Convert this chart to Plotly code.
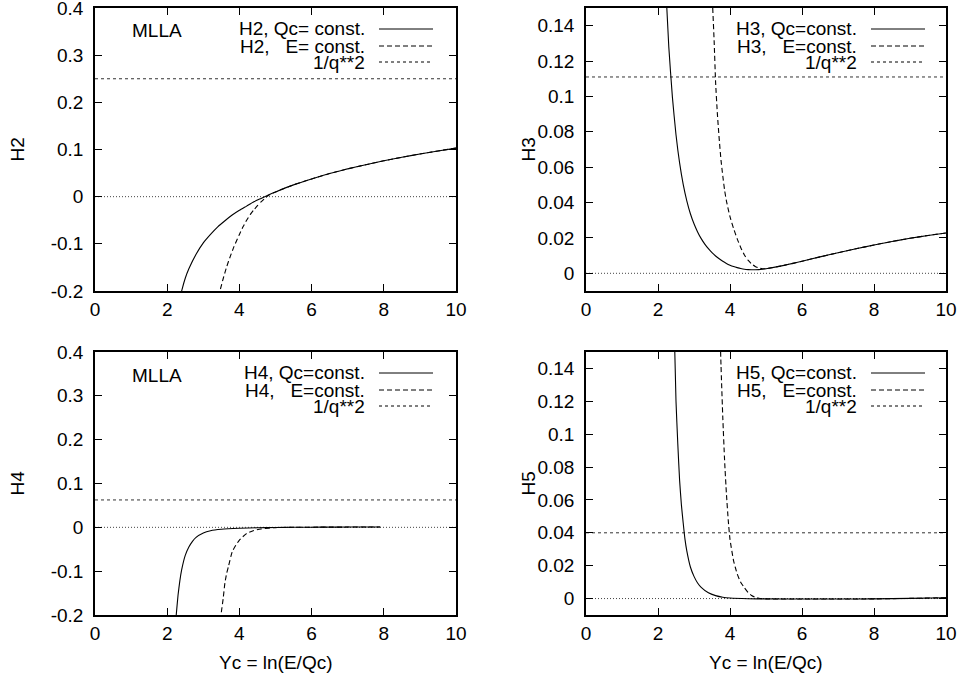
import plotly.graph_objects as go

# ---------------- data ----------------
x_ticks = [0, 2, 4, 6, 8, 10]
x_tick_labels = ["0", "2", "4", "6", "8", "10"]
yl_ticks = [-0.2, -0.1, 0, 0.1, 0.2, 0.3, 0.4]
yl_tick_labels = ["-0.2", "-0.1", "0", "0.1", "0.2", "0.3", "0.4"]
yr_ticks = [0, 0.02, 0.04, 0.06, 0.08, 0.1, 0.12, 0.14]
yr_tick_labels = ["0", "0.02", "0.04", "0.06", "0.08", "0.1", "0.12", "0.14"]

inv_q2 = [0.25, 0.111, 0.0625, 0.04]   # 1/q**2 for q = 2, 3, 4, 5
zero_x = [0, 10]

# H2
h2_qc_x = [2.35, 2.41, 2.5, 2.6, 2.8, 3.0, 3.2, 3.4, 3.6, 3.8, 4.0, 4.2, 4.4, 4.6, 4.8,
           5.0, 5.5, 6.0, 6.5, 7.0, 7.5, 8.0, 8.5, 9.0, 9.5, 10.0]
h2_qc_y = [-0.217, -0.197, -0.173, -0.153, -0.122, -0.098, -0.080, -0.064, -0.051, -0.039,
           -0.029, -0.020, -0.011, -0.0037, 0.0035, 0.010, 0.025, 0.0376, 0.049, 0.059,
           0.0677, 0.076, 0.0835, 0.0905, 0.0969, 0.103]
h2_e_x = [3.42, 3.46, 3.55, 3.65, 3.75, 3.85, 4.0, 4.1, 4.2, 4.3, 4.4, 4.5, 4.6, 4.7, 4.8,
          5.0, 5.5, 6.0, 6.5, 7.0, 7.5, 8.0, 8.5, 9.0, 9.5, 10.0]
h2_e_y = [-0.212, -0.200, -0.174, -0.148, -0.126, -0.106, -0.080, -0.064, -0.050, -0.038,
          -0.028, -0.019, -0.011, -0.004, 0.0025, 0.010, 0.025, 0.0376, 0.049, 0.059,
          0.0677, 0.076, 0.0835, 0.0905, 0.0969, 0.103]

# H3
h3_qc_x = [2.2, 2.3, 2.4, 2.5, 2.6, 2.7, 2.8, 2.9, 3.0, 3.1, 3.2, 3.3, 3.4, 3.5, 3.6, 3.7,
           3.8, 3.9, 4.0, 4.1, 4.2, 4.3, 4.4, 4.5, 4.6, 4.7, 4.8, 4.9, 5.0, 5.5, 6.0, 6.5,
           7.0, 7.5, 8.0, 8.5, 9.0, 9.5, 10.0]
h3_qc_y = [0.168, 0.128, 0.0996, 0.0783, 0.0624, 0.0503, 0.041, 0.0337, 0.0280, 0.0234,
           0.0196, 0.0165, 0.0139, 0.0117, 0.0098, 0.0082, 0.0068, 0.0056, 0.0046, 0.0038,
           0.0032, 0.0027, 0.0023, 0.0021, 0.0020, 0.0020, 0.0021, 0.0023, 0.0026, 0.0045,
           0.0068, 0.0093, 0.0116, 0.0139, 0.0160, 0.0180, 0.0198, 0.0214, 0.0228]
h3_e_x = [3.48, 3.52, 3.56, 3.6, 3.65, 3.7, 3.75, 3.8, 3.85, 3.9, 4.0, 4.1, 4.2, 4.3, 4.4,
          4.5, 4.6, 4.7, 4.8, 4.9, 5.0, 5.5, 6.0, 6.5, 7.0, 7.5, 8.0, 8.5, 9.0, 9.5, 10.0]
h3_e_y = [0.168, 0.150, 0.131, 0.108, 0.090, 0.076, 0.064, 0.055, 0.047, 0.041, 0.032,
          0.0253, 0.0195, 0.0145, 0.0104, 0.0074, 0.0053, 0.0039, 0.0030, 0.0026, 0.0026,
          0.0045, 0.0068, 0.0093, 0.0116, 0.0139, 0.0160, 0.0180, 0.0198, 0.0214, 0.0228]

# H4
h4_qc_x = [2.22, 2.25, 2.3, 2.35, 2.4, 2.5, 2.6, 2.7, 2.8, 3.0, 3.2, 3.5, 4.0, 4.5, 5.0,
           5.5, 6.0, 6.5, 7.0, 7.5, 7.9]
h4_qc_y = [-0.23, -0.20, -0.155, -0.122, -0.097, -0.064, -0.045, -0.032, -0.023, -0.013,
           -0.0078, -0.0045, -0.0022, -0.0010, -0.0003, 0.0001, 0.0003, 0.0005, 0.0006,
           0.0007, 0.0008]
h4_e_x = [3.47, 3.5, 3.55, 3.6, 3.65, 3.7, 3.8, 3.9, 4.0, 4.2, 4.4, 4.6, 4.8, 5.0, 5.5,
          6.0, 6.5, 7.0, 7.5, 7.9]
h4_e_y = [-0.23, -0.194, -0.163, -0.126, -0.104, -0.088, -0.056, -0.041, -0.029, -0.014,
          -0.0072, -0.0038, -0.0020, -0.0007, 0.0001, 0.0003, 0.0005, 0.0006, 0.0007, 0.0008]

# H5
h5_qc_x = [2.45, 2.5, 2.55, 2.6, 2.65, 2.7, 2.75, 2.8, 2.9, 3.0, 3.1, 3.2, 3.4, 3.6, 3.8,
           4.0, 4.5, 5.0, 6.0, 7.0, 8.0, 9.0, 10.0]
h5_qc_y = [0.165, 0.120, 0.094, 0.072, 0.057, 0.046, 0.036, 0.029, 0.0192, 0.0135, 0.0095,
           0.0068, 0.0035, 0.0018, 0.0008, 0.0003, -0.0001, -0.0002, -0.0003, -0.0003,
           -0.0002, 0.0001, 0.0005]
h5_e_x = [3.72, 3.75, 3.8, 3.85, 3.9, 3.95, 4.0, 4.1, 4.2, 4.3, 4.4, 4.5, 4.6, 4.7, 4.8,
          5.0, 6.0, 7.0, 8.0, 9.0, 10.0]
h5_e_y = [0.165, 0.142, 0.110, 0.084, 0.064, 0.048, 0.036, 0.023, 0.0150, 0.0098, 0.0066,
          0.0038, 0.0019, 0.0008, 0.0002, -0.0002, -0.0003, -0.0003, -0.0002, 0.0001, 0.0005]

legend_qc = ["H2, Qc= const.", "H3, Qc=const.", "H4, Qc=const.", "H5, Qc=const."]
legend_e = ["H2,\u00a0\u00a0\u00a0E= const.", "H3,\u00a0\u00a0\u00a0E=const.",
            "H4,\u00a0\u00a0\u00a0E=const.", "H5,\u00a0\u00a0\u00a0E=const."]
legend_q = "1/q**2"
y_titles = ["H2", "H3", "H4", "H5"]
x_title = "Yc = ln(E/Qc)"

# ---------------- layout geometry (pixels) ----------------
W, H = 962, 684
FONT = "Liberation Sans, Arial, Helvetica, sans-serif"
FS = 19


def px(x):
    return x / W


def py(y):
    return 1 - y / H


boxes = [  # left, right, top, bottom in pixels
    (95, 456, 8, 291),
    (586, 946, 8, 291),
    (95, 456, 352, 615),
    (586, 946, 352, 615),
]

curves = [
    (h2_qc_x, h2_qc_y, h2_e_x, h2_e_y),
    (h3_qc_x, h3_qc_y, h3_e_x, h3_e_y),
    (h4_qc_x, h4_qc_y, h4_e_x, h4_e_y),
    (h5_qc_x, h5_qc_y, h5_e_x, h5_e_y),
]

fig = go.Figure()
layout = dict(
    width=W, height=H, margin=dict(l=0, r=0, t=0, b=0, autoexpand=False),
    paper_bgcolor="white", plot_bgcolor="white", showlegend=False,
    font=dict(family=FONT, size=FS, color="black"),
)

DOT = "1px,2px"
SHORT = "3px,3px"
DASH = "5px,3px"

annotations = []
shapes = []

for i in range(4):
    n = "" if i == 0 else str(i + 1)
    xa, ya = "x" + n, "y" + n
    l, r, t, b = boxes[i]
    right = i % 2 == 1
    common = dict(showline=True, linecolor="black", linewidth=1.5, mirror="ticks",
                  ticks="inside", ticklen=7, tickwidth=1, tickcolor="black",
                  showgrid=False, zeroline=False, automargin=False,
                  ticklabeloverflow="allow",
                  tickfont=dict(family=FONT, size=FS, color="black"))
    layout["xaxis" + n] = dict(domain=[px(l), px(r)], range=[0, 10], anchor=ya,
                               tickvals=x_ticks, ticktext=x_tick_labels,
                               ticklabelstandoff=0, **common)
    if right:
        layout["yaxis" + n] = dict(domain=[py(b), py(t)], range=[-0.01, 0.15], anchor=xa,
                                   tickvals=yr_ticks, ticktext=yr_tick_labels,
                                   ticklabelstandoff=6, **common)
    else:
        layout["yaxis" + n] = dict(domain=[py(b), py(t)], range=[-0.2, 0.4], anchor=xa,
                                   tickvals=yl_ticks, ticktext=yl_tick_labels,
                                   ticklabelstandoff=6, **common)

    qx, qy, ex, ey = curves[i]
    # zero line
    fig.add_trace(go.Scatter(x=zero_x, y=[0, 0], mode="lines", xaxis=xa, yaxis=ya,
                             line=dict(color="#444", width=1, dash=DOT), hoverinfo="skip"))
    # 1/q**2 line
    fig.add_trace(go.Scatter(x=zero_x, y=[inv_q2[i], inv_q2[i]], mode="lines", xaxis=xa,
                             yaxis=ya, line=dict(color="#333", width=1, dash=SHORT),
                             name=legend_q))
    # E = const
    fig.add_trace(go.Scatter(x=ex, y=ey, mode="lines", xaxis=xa, yaxis=ya,
                             line=dict(color="black", width=1.1, dash=DASH, shape="spline",
                                       smoothing=0.5), name=legend_e[i]))
    # Qc = const
    fig.add_trace(go.Scatter(x=qx, y=qy, mode="lines", xaxis=xa, yaxis=ya,
                             line=dict(color="black", width=1.1, shape="spline",
                                       smoothing=0.5), name=legend_qc[i]))

    # legend (gnuplot style: text right-aligned, sample to the right)
    if right:
        tx, s0, s1 = 859, 871, 925
    else:
        tx, s0, s1 = 367, 379, 433
    ly = [t + 21, t + 38, t + 54]
    texts = [legend_qc[i], legend_e[i], legend_q]
    dashes = ["solid", DASH, SHORT]
    for k in range(3):
        annotations.append(dict(x=px(tx), y=py(ly[k]), xref="paper", yref="paper",
                                text=texts[k], showarrow=False, xanchor="right",
                                yanchor="middle", font=dict(family=FONT, size=FS)))
        shapes.append(dict(type="line", xref="paper", yref="paper",
                           x0=px(s0), x1=px(s1), y0=py(ly[k]), y1=py(ly[k]),
                           line=dict(color="black", width=1, dash=dashes[k])))
    if not right:
        annotations.append(dict(x=px(157), y=py(t + 23), xref="paper", yref="paper",
                                text="MLLA", showarrow=False, xanchor="center",
                                yanchor="middle", font=dict(family=FONT, size=FS)))
    # y title
    annotations.append(dict(x=px(17 if not right else 528), y=py((t + b) / 2),
                            xref="paper", yref="paper", text=y_titles[i], textangle=-90,
                            showarrow=False, xanchor="center", yanchor="middle",
                            font=dict(family=FONT, size=FS)))
    if i >= 2:
        annotations.append(dict(x=px((l + r) / 2), y=py(662), xref="paper", yref="paper",
                                text=x_title, showarrow=False, xanchor="center",
                                yanchor="middle", font=dict(family=FONT, size=FS)))

layout["annotations"] = annotations
layout["shapes"] = shapes
fig.update_layout(**layout)
fig.write_html("out.html", config={"displayModeBar": False},
               post_script="document.body.style.margin='0';document.body.style.overflow='hidden';")
